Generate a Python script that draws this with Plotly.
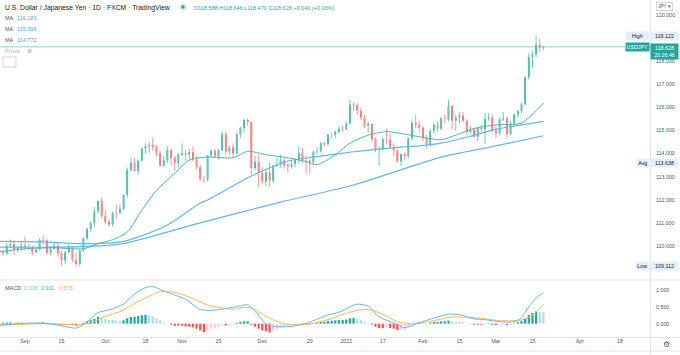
import plotly.graph_objects as go
import pandas as pd

# ---------------- data ----------------
dates = [d.strftime("%Y-%m-%d") for d in pd.bdate_range("2021-08-23", "2022-03-18")]

opens = [
    109.80, 109.72, 109.67, 110.01, 110.07, 109.84, 109.91,
    110.02, 109.95, 109.93, 109.72, 109.84, 110.26, 110.24, 109.71, 109.87, 110.02,
    109.68, 109.37, 109.72, 109.94, 109.38, 109.22, 109.79, 110.33, 110.74, 110.98, 111.50, 111.95,
    111.29, 111.05, 110.93, 111.44, 111.42, 111.61, 112.22, 113.29, 113.60, 113.25,
    113.70, 114.21, 114.33, 114.37, 114.29, 114.01, 113.48, 113.71, 114.15, 113.81, 113.58,
    113.95, 114.02, 113.95, 114.07, 113.75, 113.41, 112.89, 112.87, 113.92, 114.12,
    113.88, 114.14, 114.83, 114.09, 114.26, 114.00, 114.84, 115.12, 115.45, 115.37, 113.38, 113.65,
    113.17, 112.79, 113.18, 112.82, 113.48, 113.52, 113.70, 113.48, 113.43, 113.55,
    113.73, 114.04, 113.71, 113.70, 113.62, 114.08, 114.10, 114.45, 114.40, 114.82, 114.80, 114.96, 115.08,
    115.06, 115.30, 116.13, 116.10, 115.85, 115.56, 115.20, 115.28, 114.62, 114.18,
    114.19, 114.62, 114.60, 114.30, 114.13, 113.67, 113.98, 113.87, 114.66, 115.33, 115.25,
    115.12, 114.68, 114.41, 114.99, 115.25, 115.08, 115.53, 115.50, 116.06, 115.43,
    115.56, 115.65, 115.42, 114.93, 115.03, 114.73, 115.11, 115.05, 115.51, 115.56,
    115.00, 114.87, 115.48, 115.53, 114.85, 115.30, 115.69, 115.83, 116.14, 117.30, 118.18, 118.29, 118.70, 118.588,
]
highs = [
    110.05, 109.80, 110.12, 110.27, 110.24, 110.00, 110.16,
    110.42, 110.10, 110.00, 109.90, 110.35, 110.45, 110.30, 110.00, 110.15, 110.16,
    109.80, 109.80, 110.08, 110.00, 109.72, 109.85, 110.40, 110.80, 111.08, 111.68, 111.98, 112.08,
    111.55, 111.15, 111.50, 111.79, 111.78, 112.25, 113.40, 113.80, 113.80, 113.75,
    114.26, 114.45, 114.50, 114.70, 114.38, 114.11, 113.90, 114.31, 114.20, 113.90, 114.02,
    114.44, 114.17, 114.20, 114.30, 113.90, 113.50, 113.05, 113.95, 114.20, 114.20,
    114.20, 114.96, 114.96, 114.35, 114.45, 114.94, 115.17, 115.52, 115.52, 115.40, 113.90, 113.95,
    113.42, 113.30, 113.60, 113.50, 113.81, 113.95, 113.80, 113.60, 113.70, 113.80,
    114.30, 114.25, 113.90, 113.75, 114.15, 114.30, 114.50, 114.50, 114.85, 114.92, 115.00, 115.20, 115.20,
    115.40, 116.35, 116.23, 116.20, 116.00, 115.70, 115.40, 115.32, 114.70, 114.30,
    114.70, 115.06, 114.85, 114.45, 114.20, 114.00, 114.05, 114.70, 115.48, 115.68, 115.40,
    115.20, 114.80, 115.05, 115.35, 115.40, 115.60, 115.70, 116.34, 116.10, 115.70,
    115.80, 115.80, 115.50, 115.20, 115.10, 115.15, 115.25, 115.76, 115.75, 115.70,
    115.20, 115.55, 115.80, 115.60, 115.40, 115.75, 115.90, 116.20, 117.34, 118.36, 118.45, 119.122, 118.96, 118.646,
]
lows = [
    109.60, 109.55, 109.60, 109.92, 109.60, 109.72, 109.78,
    109.80, 109.80, 109.59, 109.70, 109.80, 110.05, 109.62, 109.60, 109.85, 109.55,
    109.12, 109.20, 109.70, 109.30, 109.112, 109.13, 109.75, 110.25, 110.60, 110.82, 111.40, 111.20,
    110.93, 110.82, 110.84, 111.18, 111.38, 111.55, 112.08, 113.20, 113.22, 113.10,
    113.65, 114.00, 114.01, 114.12, 113.86, 113.41, 113.42, 113.60, 113.47, 113.27, 113.40,
    113.89, 113.68, 113.75, 113.66, 113.30, 112.85, 112.72, 112.80, 113.85, 113.80,
    113.75, 114.10, 113.95, 113.95, 113.80, 113.92, 114.68, 114.90, 115.20, 113.05, 113.30, 112.53,
    112.70, 112.60, 112.55, 112.72, 113.40, 113.40, 113.35, 113.20, 113.35, 113.40,
    113.60, 113.60, 113.14, 113.14, 113.55, 113.95, 114.05, 114.30, 114.35, 114.65, 114.65, 114.85, 114.95,
    115.00, 115.25, 115.85, 115.67, 115.45, 115.10, 114.90, 114.50, 114.05, 113.48,
    114.15, 114.40, 114.20, 113.90, 113.60, 113.47, 113.70, 113.80, 114.55, 115.10, 114.90,
    114.55, 114.20, 114.30, 114.85, 114.95, 115.00, 115.30, 115.40, 115.05, 115.00,
    115.30, 115.35, 114.80, 114.85, 114.70, 114.52, 114.95, 114.41, 115.40, 114.90,
    114.65, 114.80, 115.40, 114.65, 114.80, 115.20, 115.55, 115.75, 116.10, 117.20, 117.70, 118.17, 118.38, 118.470,
]
closes = [
    109.72, 109.67, 110.01, 110.07, 109.84, 109.91, 110.02,
    109.95, 109.93, 109.72, 109.84, 110.26, 110.24, 109.71, 109.87, 110.02, 109.68,
    109.37, 109.72, 109.94, 109.38, 109.22, 109.79, 110.33, 110.74, 110.98, 111.50, 111.95, 111.29,
    111.05, 110.93, 111.44, 111.42, 111.61, 112.22, 113.29, 113.60, 113.25, 113.70,
    114.21, 114.33, 114.37, 114.29, 114.01, 113.48, 113.71, 114.15, 113.81, 113.58, 113.95,
    114.02, 113.95, 114.07, 113.75, 113.41, 112.89, 112.87, 113.92, 114.12, 113.88,
    114.14, 114.83, 114.09, 114.26, 114.00, 114.84, 115.12, 115.45, 115.37, 113.38, 113.65, 113.17,
    112.79, 113.18, 112.82, 113.48, 113.52, 113.70, 113.48, 113.43, 113.55, 113.73,
    114.04, 113.71, 113.70, 113.62, 114.08, 114.10, 114.45, 114.40, 114.82, 114.80, 114.96, 115.08, 115.06,
    115.30, 116.13, 116.10, 115.85, 115.56, 115.20, 115.28, 114.62, 114.18, 114.19,
    114.62, 114.60, 114.30, 114.13, 113.67, 113.98, 113.87, 114.66, 115.33, 115.25, 115.12,
    114.68, 114.41, 114.99, 115.25, 115.08, 115.53, 115.50, 116.06, 115.43, 115.56,
    115.65, 115.42, 114.93, 115.03, 114.73, 115.11, 115.05, 115.51, 115.56, 115.00,
    114.87, 115.48, 115.53, 114.85, 115.30, 115.69, 115.83, 116.14, 117.30, 118.18, 118.29, 118.70, 118.588, 118.628,
]

# moving averages, read at sample bars (bar number = position in `dates`)
ma20_bar = [0, 7, 15, 23, 27, 31, 35, 39, 43, 46, 49, 52, 57, 64, 68, 73, 79, 84, 87, 92, 96, 101, 106,
            110, 115, 121, 125, 130, 136, 141, 143, 146, 149]
ma20_val = [109.75, 109.88, 109.92, 109.88, 110.10, 110.27, 110.60, 111.55, 112.40, 112.86, 113.30, 113.72,
            113.85, 113.82, 114.10, 113.95, 113.82, 113.65, 113.52, 113.94, 114.45, 114.80, 114.95, 114.87,
            114.73, 114.60, 114.80, 115.09, 115.24, 115.27, 115.32, 115.70, 116.189]
ma50_bar = [0, 12, 22, 34, 46, 55, 57, 69, 79, 87, 97, 106, 115, 121, 129, 136, 149]
ma50_val = [110.20, 110.18, 110.10, 110.20, 110.91, 111.86, 111.99, 113.03, 113.68, 113.87, 114.08, 114.23,
            114.33, 114.45, 114.75, 115.05, 115.396]
ma100_bar = [0, 17, 27, 34, 55, 77, 97, 121, 135, 149]
ma100_val = [109.95, 109.95, 110.00, 110.10, 111.00, 111.90, 112.64, 113.85, 114.30, 114.772]

# MACD histogram, one value per bar
macd_hist = [
    0.02, 0.03, 0.03, 0.04, 0.03, 0.03, 0.03,
    0.02, 0.02, 0.01, 0.01, 0.03, 0.04, 0.02, -0.01, -0.02, -0.02,
    -0.04, -0.03, -0.02, -0.04, -0.06, -0.02, 0.03, 0.07, 0.10, 0.14, 0.20, 0.18,
    0.15, 0.12, 0.11, 0.09, 0.08, 0.10, 0.16, 0.20, 0.21, 0.23,
    0.25, 0.26, 0.24, 0.21, 0.16, 0.10, 0.04, 0.00, -0.03, -0.06, -0.06,
    -0.06, -0.08, -0.09, -0.11, -0.15, -0.20, -0.25, -0.20, -0.15, -0.12,
    -0.09, -0.05, -0.05, -0.03, -0.02, 0.02, 0.05, 0.07, 0.07, -0.03, -0.09, -0.15,
    -0.20, -0.23, -0.26, -0.22, -0.17, -0.12, -0.09, -0.07, -0.05, -0.03,
    -0.01, -0.01, -0.01, -0.02, 0.01, 0.03, 0.05, 0.06, 0.08, 0.09, 0.10, 0.11, 0.11,
    0.12, 0.16, 0.17, 0.14, 0.10, 0.06, 0.03, -0.03, -0.09, -0.13,
    -0.13, -0.12, -0.13, -0.15, -0.19, -0.18, -0.17, -0.11, -0.03, 0.02, 0.04,
    0.03, 0.01, 0.03, 0.05, 0.05, 0.07, 0.07, 0.09, 0.07, 0.06,
    0.05, 0.04, 0.00, -0.01, -0.03, -0.03, -0.03, -0.01, -0.01, -0.03,
    -0.04, -0.02, -0.01, -0.04, -0.03, 0.01, 0.04, 0.08, 0.16, 0.26, 0.32, 0.36, 0.35, 0.338,
]
macd_bar = [0, 5, 11, 16, 21, 24, 27, 30, 34, 37, 40, 42, 45, 51, 55, 58, 62, 66, 68, 71, 73, 76, 80, 84,
            90, 93, 96, 98, 101, 104, 108, 111, 113, 117, 123, 126, 130, 133, 137, 141, 143, 145, 147, 149]
macd_val = [-0.05, 0.00, 0.02, -0.04, -0.13, 0.05, 0.33, 0.41, 0.58, 0.88, 1.07, 1.10, 0.97, 0.72, 0.42,
            0.40, 0.45, 0.53, 0.56, 0.25, -0.02, -0.09, -0.08, 0.01, 0.26, 0.34, 0.50, 0.58, 0.52, 0.20,
            0.02, -0.12, -0.05, 0.10, 0.28, 0.27, 0.14, 0.12, 0.06, 0.06, 0.18, 0.50, 0.76, 0.911]
signal_bar = [0, 12, 22, 25, 28, 33, 38, 44, 48, 53, 57, 64, 66, 69, 71, 75, 79, 84, 90, 95, 100, 104,
              109, 113, 118, 124, 130, 132, 137, 143, 146, 149]
signal_val = [-0.04, 0.00, -0.03, 0.02, 0.18, 0.36, 0.65, 0.95, 0.93, 0.75, 0.55, 0.43, 0.47, 0.47, 0.35,
              0.11, -0.02, -0.02, 0.12, 0.31, 0.43, 0.33, 0.06, 0.00, 0.07, 0.20, 0.18, 0.16, 0.09, 0.11,
              0.26, 0.573]

tick_dates = ["2021-09-01", "2021-09-15", "2021-10-01", "2021-10-18", "2021-11-01", "2021-11-15",
              "2021-12-01", "2021-12-20", "2022-01-03", "2022-01-17", "2022-02-01", "2022-02-15",
              "2022-03-01", "2022-03-15", "2022-04-01", "2022-04-18"]
tick_labels = ["Sep", "15", "Oct", "18", "Nov", "15", "Dec", "20", "2022", "17", "Feb", "15",
               "Mar", "15", "Apr", "18"]
price_ticks = [110, 111, 112, 113, 114, 115, 116, 117, 118, 120]
macd_ticks = [0.0, 0.5, 1.0]

# ---------------- style ----------------
GREEN = "#26a69a"
RED = "#ef5350"
GREEN_WICK = "#74c7bb"
RED_WICK = "#f39a98"
MA1 = "#4cb8a4"
MA2 = "#64b5f6"
MA3 = "#64b5f6"
MACD_C = "#64b5f6"
SIG_C = "#ffb74d"
AX = "#50535e"
FONT = "Liberation Sans"
PW, PH = 650.0, 337.0


def px(x):
    return x / PW


def py(y):
    return 1 - y / PH


hist_colors = []
prev = 0.0
for h in macd_hist:
    if h >= 0:
        hist_colors.append("#26a69a" if h >= prev else "#b2dfdb")
    else:
        hist_colors.append("#ffcdd2" if h > prev else "#ff5252")
    prev = h

fig = go.Figure()

# wicks (lighter, thin) drawn from the high/low lists
for up, col in [(True, GREEN_WICK), (False, RED_WICK)]:
    wx, wy = [], []
    for d, o, h, l, c in zip(dates, opens, highs, lows, closes):
        if (c >= o) == up:
            wx += [d, d, None]
            wy += [h, l, None]
    fig.add_trace(go.Scatter(x=wx, y=wy, mode="lines", line=dict(color=col, width=1),
                             hoverinfo="skip", showlegend=False, xaxis="x", yaxis="y"))

# bodies
fig.add_trace(go.Candlestick(
    x=dates, open=opens, high=highs, low=lows, close=closes,
    increasing=dict(line=dict(color=GREEN, width=0), fillcolor=GREEN),
    decreasing=dict(line=dict(color=RED, width=0), fillcolor=RED),
    whiskerwidth=0, hoverinfo="skip", showlegend=False, xaxis="x", yaxis="y"))

for bars, vals, col, w in [(ma100_bar, ma100_val, MA3, 1.2), (ma50_bar, ma50_val, MA2, 1.2),
                           (ma20_bar, ma20_val, MA1, 1.0)]:
    fig.add_trace(go.Scatter(x=[dates[b] for b in bars], y=vals, mode="lines",
                             line=dict(color=col, width=w, shape="spline", smoothing=0.7),
                             hoverinfo="skip", showlegend=False, xaxis="x", yaxis="y"))

fig.add_trace(go.Bar(x=dates, y=macd_hist, marker=dict(color=hist_colors, line=dict(width=0)),
                     width=0.62 * 86400000, hoverinfo="skip", showlegend=False, xaxis="x2", yaxis="y2"))
fig.add_trace(go.Scatter(x=[dates[b] for b in signal_bar], y=signal_val, mode="lines",
                         line=dict(color=SIG_C, width=1, shape="spline", smoothing=0.7),
                         hoverinfo="skip", showlegend=False, xaxis="x2", yaxis="y2"))
fig.add_trace(go.Scatter(x=[dates[b] for b in macd_bar], y=macd_val, mode="lines",
                         line=dict(color=MACD_C, width=1, shape="spline", smoothing=0.7),
                         hoverinfo="skip", showlegend=False, xaxis="x2", yaxis="y2"))

xrange_ = ["2021-08-23 03:36", "2022-04-28 04:48"]
rb = [dict(bounds=["sat", "mon"])]

fig.update_layout(
    width=680, height=355, margin=dict(l=0, r=30, t=0, b=18),
    paper_bgcolor="white", plot_bgcolor="white", showlegend=False,
    font=dict(family=FONT, color=AX, size=5.5),
    xaxis=dict(domain=[0, 1], anchor="y", type="date", range=xrange_, rangebreaks=rb,
               showticklabels=False, showgrid=False, zeroline=False, showline=False,
               rangeslider=dict(visible=False)),
    yaxis=dict(domain=[(PH - 279) / PH, 1], anchor="x", side="right", range=[108.57, 120.65],
               tickvals=price_ticks, ticktext=[f"{v:.3f}" for v in price_ticks],
               showgrid=False, zeroline=False, showline=False, ticks="outside", ticklen=4,
               tickcolor="rgba(0,0,0,0)", tickfont=dict(size=5.3, color=AX, family=FONT)),
    xaxis2=dict(domain=[0, 1], anchor="y2", type="date", range=xrange_, rangebreaks=rb, matches="x",
                tickvals=tick_dates, ticktext=tick_labels, showgrid=False, zeroline=False,
                showline=False, ticks="", tickfont=dict(size=5.3, color=AX, family=FONT)),
    yaxis2=dict(domain=[0, (PH - 281) / PH], anchor="x2", side="right", range=[-0.395, 1.267],
                tickvals=macd_ticks, ticktext=[f"{v:.3f}" for v in macd_ticks],
                showgrid=False, zeroline=False, showline=False, ticks="outside", ticklen=4,
                tickcolor="rgba(0,0,0,0)", tickfont=dict(size=5.3, color=AX, family=FONT)),
)

SEP = "#e0e3eb"
shapes = [
    dict(type="line", xref="paper", yref="paper", x0=px(650.5), x1=px(650.5), y0=py(0), y1=py(355),
         line=dict(color=SEP, width=1)),
    dict(type="line", xref="paper", yref="paper", x0=0, x1=px(680), y0=py(280), y1=py(280),
         line=dict(color=SEP, width=1)),
    dict(type="line", xref="paper", yref="paper", x0=0, x1=px(680), y0=py(337.5), y1=py(337.5),
         line=dict(color=SEP, width=1)),
    dict(type="line", xref="paper", yref="paper", x0=0, x1=px(680), y0=py(351), y1=py(351),
         line=dict(color=SEP, width=1)),
    dict(type="line", xref="paper", yref="y", x0=0, x1=1, y0=closes[-1], y1=closes[-1],
         line=dict(color="#b7e1da", width=1.5), layer="below"),
    dict(type="rect", xref="paper", yref="paper", x0=px(3), x1=px(16), y0=py(57), y1=py(67),
         line=dict(color="#d1d4dc", width=1), fillcolor="white"),
    dict(type="circle", xref="paper", yref="paper", x0=px(179.5), x1=px(186.5), y0=py(3.5), y1=py(10.5),
         line=dict(width=0), fillcolor="#cdeee8"),
    dict(type="circle", xref="paper", yref="paper", x0=px(181.3), x1=px(184.7), y0=py(5.3), y1=py(8.7),
         line=dict(width=0), fillcolor=GREEN),
]
fig.update_layout(shapes=shapes)

ann = []


def text(x, y, s, color=AX, size=5.5, anchor="left", **kw):
    ann.append(dict(x=px(x), y=py(y), xref="paper", yref="paper", text=s, showarrow=False,
                    xanchor=anchor, yanchor="middle", font=dict(size=size, color=color, family=FONT), **kw))


def box(x0, x1, y0, y1, s, bg, color, size=5.3):
    ann.append(dict(x=px((x0 + x1) / 2), y=py((y0 + y1) / 2), xref="paper", yref="paper", text=s,
                    showarrow=False, xanchor="center", yanchor="middle", width=x1 - x0, height=y1 - y0,
                    bgcolor=bg, borderpad=0, font=dict(size=size, color=color, family=FONT)))


text(3, 7.5, "U.S. Dollar / Japanese Yen · 1D · FXCM · TradingView", color="#131722", size=6.8)
text(192, 7.5, "O118.588 H118.646 L118.470 C118.628 +0.040 (+0.03%)", color=GREEN, size=5.5)
text(3, 18, "MA", color=AX)
text(15, 18, "116.189", color=MA1)
text(3, 29, "MA", color=AX)
text(15, 29, "115.396", color="#42a5f5")
text(3, 40, "MA", color=AX)
text(15, 40, "114.772", color="#42a5f5")
text(3, 51, "Pivots", color="#b2b5be")
text(25, 51, "⊘", color="#9598a1", size=6)
text(3, 287.5, "MACD", color=AX)
text(22, 287.5, "0.338", color="#80cbc4")
text(39, 287.5, "0.911", color="#42a5f5")
text(56.5, 287.5, "0.573", color="#ffa726")

box(626, 648.5, 32.5, 40, "High", "#e3effd", "#131722")
box(651, 678, 32.5, 40, "119.122", "#e3effd", "#131722")
box(626, 648.5, 43.5, 51, "USDJPY", GREEN, "white")
box(651, 678, 43.5, 58.5, "118.628<br>20:26:46", GREEN, "white")
box(637, 648.5, 159, 166.5, "Avg", "#e3effd", "#131722")
box(651, 678, 159, 166.5, "113.638", "#e3effd", "#131722")
box(636, 648.5, 262.5, 270, "Low", "#e3effd", "#131722")
box(651, 678, 262.5, 270, "109.112", "#e3effd", "#131722")

ann.append(dict(x=px(664), y=py(6.5), xref="paper", yref="paper", text="JPY ▾", showarrow=False,
                xanchor="center", yanchor="middle", bordercolor="#d1d4dc", borderwidth=1, borderpad=1,
                bgcolor="white", font=dict(size=4.8, color=AX, family=FONT)))
text(666, 344, "⚙", color="#50535e", size=8, anchor="center")

fig.update_layout(annotations=ann)

fig.write_html("out.html", config={"displayModeBar": False, "staticPlot": True},
               post_script="document.body.style.margin='0';document.body.style.padding='0';")
